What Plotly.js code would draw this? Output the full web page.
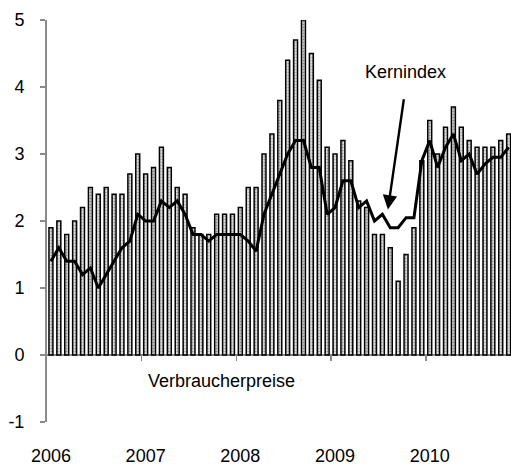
<!DOCTYPE html>
<html>
<head>
<meta charset="utf-8">
<script src="https://cdn.plot.ly/plotly-3.0.1.min.js"></script>
<style>html,body{margin:0;padding:0;background:#fff;}#chart{width:511px;height:465px;}</style>
</head>
<body>
<div id="chart"></div>
<script>
// Monthly data, Jan 2006 .. Nov 2010 (month index 0..58)
const years = ["2006", "2007", "2008", "2009", "2010"];
const verbraucherpreise = [
  1.9, 2.0, 1.8, 2.0, 2.2, 2.5, 2.4, 2.5, 2.4, 2.4, 2.7, 3.0,
  2.7, 2.8, 3.1, 2.8, 2.5, 2.4, 1.9, 1.8, 1.8, 2.1, 2.1, 2.1,
  2.2, 2.5, 2.5, 3.0, 3.3, 3.8, 4.4, 4.7, 5.0, 4.5, 4.1, 3.1,
  3.0, 3.2, 2.9, 2.3, 2.2, 1.8, 1.8, 1.6, 1.1, 1.5, 1.9, 2.9,
  3.5, 3.0, 3.4, 3.7, 3.4, 3.2, 3.1, 3.1, 3.1, 3.2, 3.3
];
const kernindex = [
  1.4, 1.6, 1.4, 1.4, 1.2, 1.3, 1.0, 1.2, 1.4, 1.6, 1.7, 2.1,
  2.0, 2.0, 2.3, 2.2, 2.3, 2.1, 1.8, 1.8, 1.7, 1.8, 1.8, 1.8,
  1.8, 1.7, 1.55, 2.1, 2.4, 2.7, 3.0, 3.2, 3.2, 2.8, 2.8, 2.1,
  2.2, 2.6, 2.6, 2.2, 2.3, 2.0, 2.1, 1.9, 1.9, 2.05, 2.05, 2.9,
  3.2, 2.8, 3.1, 3.3, 2.9, 3.0, 2.7, 2.85, 2.95, 2.95, 3.1
];
const yTicks = [-1, 0, 1, 2, 3, 4, 5];
const yTickText = ["-1", "0", "1", "2", "3", "4", "5"];

const months = verbraucherpreise.map((_, i) => i);
const yearStart = years.map((_, k) => k * 12);
const yearBoundary = years.slice(1).map((_, k) => (k + 1) * 12 - 0.5);

const FONT = "Liberation Sans, Arial, Helvetica, sans-serif";
const AXC = "#8a8a8a";

const traces = [
  {
    type: "bar", x: months, y: verbraucherpreise, width: 0.5,
    marker: {
      color: "#c4c4c4",
      line: {color: "#000", width: 1.5},
      pattern: {shape: ".", fgcolor: "#8a8a8a", bgcolor: "#e0e0e0", size: 3, solidity: 0.35}
    },
    hoverinfo: "skip", xaxis: "x", yaxis: "y"
  },
  {
    type: "scatter", mode: "lines", x: months, y: kernindex,
    line: {color: "#000", width: 3},
    hoverinfo: "skip", xaxis: "x2", yaxis: "y"
  }
];

const layout = {
  width: 511, height: 465,
  margin: {l: 47, r: 0, t: 20, b: 43},
  paper_bgcolor: "#fff", plot_bgcolor: "#fff",
  showlegend: false,
  font: {family: FONT, size: 18, color: "#000"},
  bargap: 0,
  xaxis: {
    range: [-0.5, 58.3], showgrid: false, zeroline: false, showline: false,
    tickmode: "array", tickvals: yearStart, ticktext: years, ticks: "",
    ticklabelstandoff: 21, tickfont: {size: 18}, fixedrange: true
  },
  xaxis2: {
    matches: "x", overlaying: "x", anchor: "free", position: 1 / 6,
    showgrid: false, zeroline: false, showline: false,
    tickmode: "array", tickvals: yearBoundary, ticks: "outside", ticklen: 5,
    tickwidth: 1.5, tickcolor: AXC, showticklabels: false
  },
  yaxis: {
    range: [-1, 5], showgrid: false,
    zeroline: true, zerolinecolor: AXC, zerolinewidth: 2,
    showline: true, linecolor: AXC, linewidth: 2,
    tickmode: "array", tickvals: yTicks, ticktext: yTickText,
    ticks: "outside", ticklen: 5, tickwidth: 1.5, tickcolor: AXC,
    ticklabelstandoff: 12, tickfont: {size: 18}, fixedrange: true
  },
  annotations: [
    {x: 44.9, y: 4.23, xref: "x", yref: "y", text: "Kernindex", showarrow: false,
     font: {size: 18, family: FONT, color: "#000"}},
    {x: 21.55, y: -0.39, xref: "x", yref: "y", text: "Verbraucherpreise", showarrow: false,
     font: {size: 18, family: FONT, color: "#000"}},
    {x: 42.7, y: 2.17, xref: "x", yref: "y", ax: 44.75, ay: 3.84, axref: "x", ayref: "y",
     text: "", showarrow: true, arrowhead: 2, arrowsize: 1.2, arrowwidth: 2.4, arrowcolor: "#000"}
  ]
};

Plotly.newPlot("chart", traces, layout, {staticPlot: true, displayModeBar: false});
</script>
</body>
</html>
